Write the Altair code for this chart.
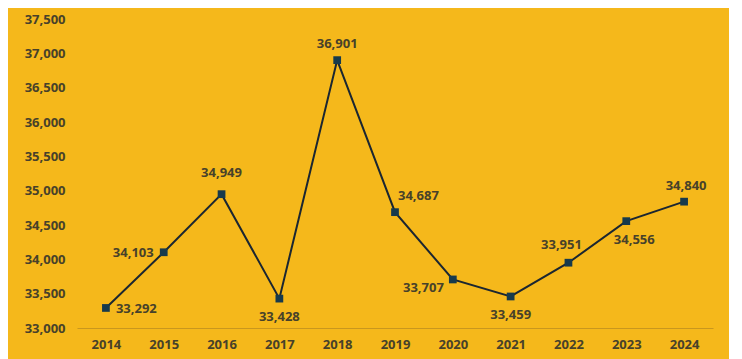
import altair as alt
import pandas as pd

years = ["2014", "2015", "2016", "2017", "2018", "2019", "2020", "2021", "2022", "2023", "2024"]
values = [33292, 34103, 34949, 33428, 36901, 34687, 33707, 33459, 33951, 34556, 34840]

df = pd.DataFrame({"year": years, "value": values})
df["label"] = df["value"].map(lambda v: f"{v:,}")

BG = "#F5B81B"
TXT = "#47412A"
LINE = "#1B2631"
MARK = "#173A4C"

# label placement per year: (align, dx, dy)
placement = {
    "2014": ("left", 10, 1),
    "2015": ("right", -10, 1),
    "2016": ("center", 0, -21),
    "2017": ("center", 0, 18),
    "2018": ("center", 0, -16),
    "2019": ("left", 3, -16),
    "2020": ("right", -9, 9),
    "2021": ("center", 0, 19),
    "2022": ("center", -7, -18),
    "2023": ("center", 8, 19),
    "2024": ("center", 2, -16),
}

x = alt.X("year:O", scale=alt.Scale(type="point", padding=0.5),
          axis=alt.Axis(title=None, labelAngle=0, ticks=False, domain=True,
                        domainColor="#C9971E", domainWidth=1, labelPadding=10,
                        labelFont="Open Sans", labelFontWeight="bold",
                        labelFontSize=13, labelColor=TXT, grid=False))
y = alt.Y("value:Q", scale=alt.Scale(domain=[33000, 37500], nice=False, zero=False),
          axis=alt.Axis(title=None, values=list(range(33000, 37501, 500)), format=",.0f",
                        ticks=False, domain=False, grid=False, labelPadding=12,
                        labelFont="Open Sans", labelFontWeight="bold",
                        labelFontSize=13, labelColor=TXT))

base = alt.Chart(df).encode(x=x, y=y)
line = base.mark_line(color=LINE, strokeWidth=2)
pts = base.mark_square(color=MARK, opacity=1, size=60)

layers = [line, pts]
for yr, (al, dx, dy) in placement.items():
    layers.append(
        base.transform_filter(alt.datum.year == yr).mark_text(
            align=al, baseline="middle", dx=dx, dy=dy, font="Open Sans",
            fontWeight="bold", fontSize=13, color=TXT
        ).encode(text="label:N")
    )

chart = alt.layer(*layers).properties(
    width=636, height=309, background=BG,
    padding={"left": 16, "top": 5, "right": 16, "bottom": 8}
).configure_view(stroke=None)

chart.save("out.html", embed_options={"renderer": "svg", "actions": False})
